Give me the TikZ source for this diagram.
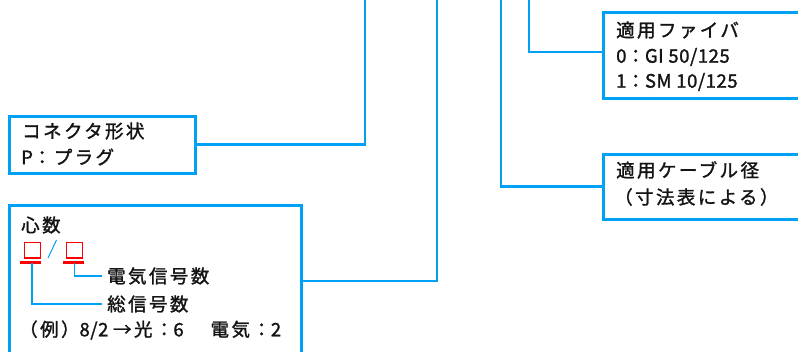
\documentclass[tikz,border=0pt]{standalone}
\usepackage{fontspec}
\newfontfamily\jp[LetterSpace=13,FakeBold=1.5]{Noto Sans CJK JP}
\newfontfamily\jpl[LetterSpace=3,FakeBold=1.5]{Noto Sans CJK JP}
\definecolor{lblue}{RGB}{0,160,245}
\definecolor{tx}{RGB}{20,20,20}
\definecolor{rd}{RGB}{255,0,0}
\begin{document}
\begin{tikzpicture}[x=1pt,y=-1pt,
  box/.style={draw=lblue,line width=2.7pt,anchor=north west,inner sep=0pt},
  conn/.style={draw=lblue,line width=2.7pt},
  thinconn/.style={draw=lblue,line width=1.3pt},
  lbl/.style={anchor=west,inner sep=0pt,text=tx,font=\jp\fontsize{18.5}{18.5}\selectfont},
  sub/.style={lbl,inner xsep=5pt},
  sq/.style={draw=rd,line width=1.2pt,minimum size=15.5pt,inner sep=0pt,anchor=north west},
  uline/.style={draw=rd,line width=2.2pt}
]
\useasboundingbox (0,0) rectangle (798,352);
\clip (0,0) rectangle (798,352);

% boxes
\node[box,minimum width=186pt,minimum height=57pt] (shape) at (8,115) {};
\node[box,minimum width=292pt,minimum height=176pt] (core) at (8,204) {};
\node[box,minimum width=218pt,minimum height=86pt] (fiber) at (602,11) {};
\node[box,minimum width=218pt,minimum height=65pt] (cable) at (602,153) {};

% top ends of connectors
\coordinate (t1) at (365,-5);
\coordinate (t2) at (437,-5);
\coordinate (t3) at (529,-5);
\coordinate (t4) at (501,-5);

\draw[conn] (shape.east) -| (t1);
\draw[conn] ([yshift=-77pt]core.north east) -| (t2);
\draw[conn] ([yshift=-41pt]fiber.north west) -| (t3);
\draw[conn] (cable.west) -| (t4);

% texts
\node[lbl] (s1) at (22,131) {コネクタ形状};
\node[lbl] (s2) at (21,157) {{\jpl P}：プラグ};

\node[lbl] (f1) at (616,30) {適用ファイバ};
\node[lbl] (f2) at (616,57) {{\jpl 0}：{\jpl GI 50/125}};
\node[lbl] (f3) at (616,82) {{\jpl 1}：{\jpl SM 10/125}};

\node[lbl] (c1) at (616,170) {適用ケーブル径};
\node[lbl] (c2) at (614,197) {（寸法表による）};

\node[lbl] (k1) at (21,225) {心数};
\node[sq] (sqa) at (24,242) {};
\node[sq] (sqb) at (66,242) {};
\coordinate (ua1) at (20,262.5);
\coordinate (ua2) at (41,262.5);
\coordinate (ub1) at (63,262.5);
\coordinate (ub2) at (84,262.5);
\draw[uline] (ua1) -- (ua2);
\draw[uline] (ub1) -- (ub2);
\coordinate (sl1) at (48,258);
\coordinate (sl2) at (56.5,240);
\draw[thinconn,line width=1pt] (sl1) -- (sl2);

\node[sub] (elec) at (102,276) {電気信号数};
\node[sub] (total) at (102,304) {総信号数};
\draw[thinconn] (sqb.south |- ub1) ++(0,1) |- (elec.west);
\draw[thinconn] (sqa.south |- ua1) ++(-0.5,1) |- (total.west);

\node[lbl] (ex) at (19,330) {（例）{\jpl 8/2 }→光：{\jpl 6}\hspace{6pt}　電気：{\jpl 2}};
\end{tikzpicture}
\end{document}
